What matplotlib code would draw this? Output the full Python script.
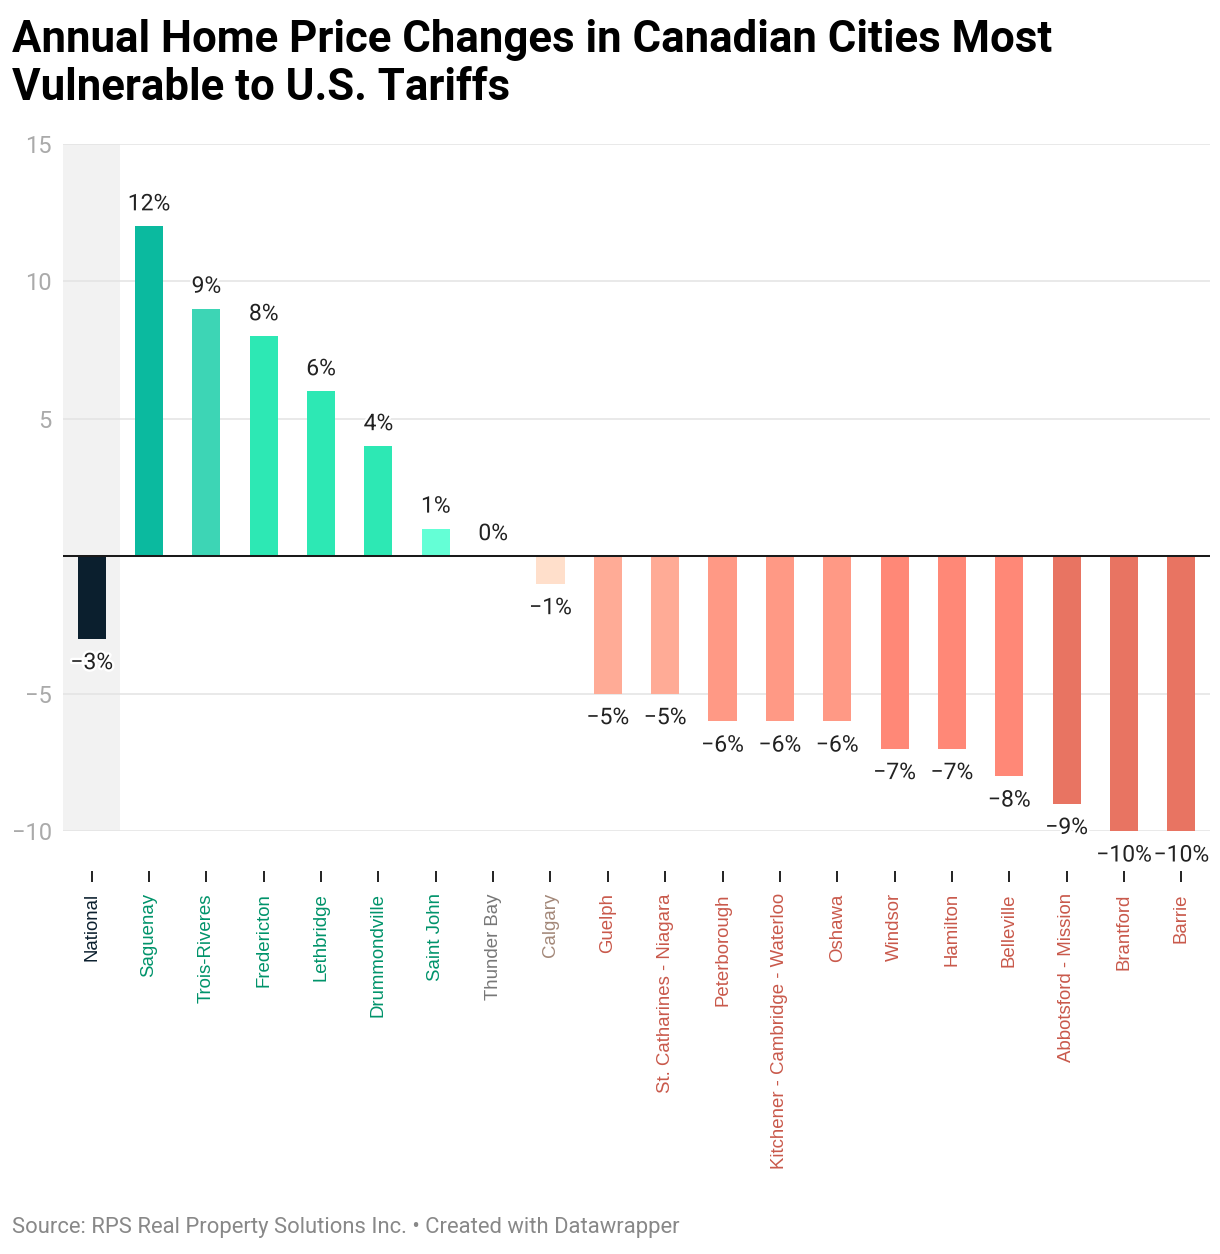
import matplotlib
matplotlib.use("Agg")
import matplotlib.pyplot as plt
import matplotlib.patheffects as pe

cities = ["National", "Saguenay", "Trois-Riveres", "Fredericton", "Lethbridge",
          "Drummondville", "Saint John", "Thunder Bay", "Calgary", "Guelph",
          "St. Catharines - Niagara", "Peterborough", "Kitchener - Cambridge - Waterloo",
          "Oshawa", "Windsor", "Hamilton", "Belleville", "Abbotsford - Mission",
          "Brantford", "Barrie"]
values = [-3, 12, 9, 8, 6, 4, 1, 0, -1, -5, -5, -6, -6, -6, -7, -7, -8, -9, -10, -10]
bar_colors = ["#0b1f2e", "#0bba9f", "#3dd5b5", "#2de8b4", "#2de8b4", "#2de8b4",
              "#64ffd6", "#cccccc", "#ffdfcb", "#ffab96", "#ffab96", "#ff9985",
              "#ff9985", "#ff9985", "#ff8877", "#ff8877", "#ff8877", "#e87462",
              "#e87462", "#e87462"]
label_colors = ["#0b1f2e"] + ["#00936a"] * 6 + ["#777777", "#a38879"] + ["#c9594b"] * 11
yticks = [-10, -5, 5, 10, 15]
ytick_labels = ["\u221210", "\u22125", "5", "10", "15"]

W, H = 1220, 1254
fig = plt.figure(figsize=(W / 100, H / 100), dpi=100)
ax = fig.add_axes([63 / W, 1 - 831 / H, (1210 - 63) / W, (831 - 144) / H])

# spine position first (it resets ticks)
ax.spines["bottom"].set_position(("outward", 28.8))
for s in ax.spines.values():
    s.set_color("none")

x = list(range(len(cities)))
ax.axvspan(-0.5, 0.5, color="#f2f2f2", zorder=0, lw=0)
for yv in yticks:
    ax.axhline(yv, color="#e3e3e3", lw=1.1, zorder=1)
ax.bar(x, values, width=0.49, color=bar_colors, zorder=2)
ax.axhline(0, color="#1a1a1a", lw=1.45, zorder=3)

for xi, v in zip(x, values):
    txt = ("\u2212" if v < 0 else "") + f"{abs(v)}%"
    off = 8 if v >= 0 else -9
    ax.annotate(txt, (xi, v), xytext=(0, off), textcoords="offset points",
                ha="center", va="bottom" if v >= 0 else "top",
                fontsize=16.5, family="Roboto", color="#222222", zorder=5,
                annotation_clip=False,
                path_effects=[pe.withStroke(linewidth=3.5, foreground="white")])

ax.set_xlim(-0.5, 19.5)
ax.set_ylim(-10, 15)
ax.set_yticks(yticks)
ax.set_yticklabels(ytick_labels, family="Roboto", fontsize=17, color="#aaaaaa")
ax.tick_params(axis="y", length=0, pad=8)

ax.set_xticks(x)
ax.set_xticklabels(cities, rotation=90, family="Liberation Sans", fontsize=13.4,
                   va="top", ha="center")
for lbl, c in zip(ax.get_xticklabels(), label_colors):
    lbl.set_color(c)
ax.tick_params(axis="x", length=8, width=1.4, color="#222222", pad=8)

fig.text(12 / W, 1 - 52 / H, "Annual Home Price Changes in Canadian Cities Most",
         family="Roboto", fontweight="bold", fontsize=31.5, color="#000000",
         va="baseline", ha="left")
fig.text(12 / W, 1 - 100 / H, "Vulnerable to U.S. Tariffs",
         family="Roboto", fontweight="bold", fontsize=31.5, color="#000000",
         va="baseline", ha="left")
fig.text(12 / W, 1 - 1228 / H, "Source: RPS Real Property Solutions Inc. \u2022 Created with Datawrapper",
         family="Roboto", fontsize=15.8, color="#888888", va="center", ha="left")

fig.savefig("out.png", dpi=100, facecolor="white")
